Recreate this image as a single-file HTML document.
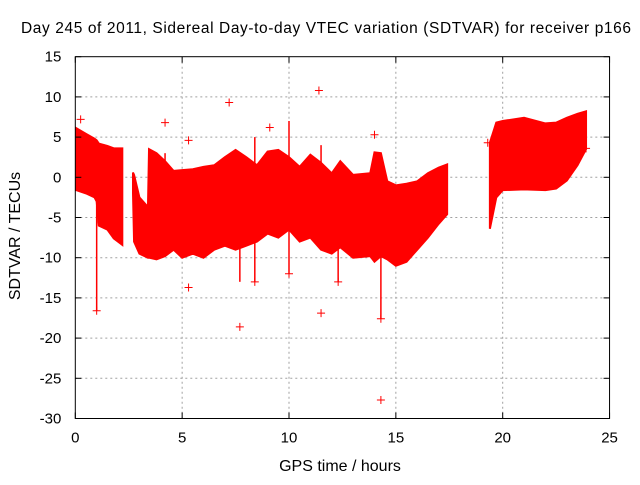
<!DOCTYPE html>
<html><head><meta charset="utf-8"><style>
body{margin:0;background:#fff;}
svg text{font-family:"Liberation Sans",sans-serif;font-size:15px;fill:#000;}
</style></head><body>
<svg id="c" width="640" height="480">
<text x="326" y="33" text-anchor="middle" style="font-size:15.5px" textLength="610">Day 245 of 2011, Sidereal Day-to-day VTEC variation (SDTVAR) for receiver p166</text>
<text x="340" y="471" text-anchor="middle" style="font-size:16px">GPS time / hours</text>
<text transform="translate(20,236) rotate(-90)" text-anchor="middle" style="font-size:16px">SDTVAR / TECUs</text>
<g id="grid"></g><g id="data"></g><g id="axes"></g>
</svg>
<script>
const xTicks=[0,5,10,15,20,25];
const yTicks=[15,10,5,0,-5,-10,-15,-20,-25,-30];
const hours=[0.05,0.5,0.9,1.0,1.1,1.5,1.8,2.2,null,2.7,2.75,3.0,3.4,3.45,3.8,4.2,4.6,5.0,5.5,6.0,6.5,7.0,7.5,8.0,8.5,9.0,9.5,10.0,10.5,11.0,11.5,12.0,12.4,13.0,13.8,14.0,14.3,14.6,15.0,15.5,16.0,16.5,17.0,17.4,null,19.4,19.7,20.0,21.0,22.0,22.5,23.0,23.5,23.9];
const upper=[6.1,5.4,4.8,4.6,4.2,3.9,3.6,3.6,null,0.6,0.3,-2.5,-3.7,3.5,3.0,2.0,0.8,0.9,1.0,1.3,1.5,2.5,3.4,2.5,1.5,3.2,3.4,2.5,1.3,2.8,1.8,0.5,2.0,0.3,0.5,3.1,3.0,-0.5,-1,-0.8,-0.5,0.5,1.2,1.6,null,4.3,6.8,7.0,7.4,6.7,6.8,7.4,7.9,8.2];
const lower=[-1.6,-2.0,-2.5,-3.0,-6.0,-6.5,-7.6,-8.4,null,-2.0,-8.0,-9.5,-10.0,-10.0,-10.2,-9.8,-9.0,-10.0,-9.5,-10.0,-9.0,-8.5,-9.0,-8.5,-8.0,-7.0,-7.5,-6.5,-8.0,-7.5,-9.0,-9.5,-8.7,-10,-9.8,-10.5,-9.8,-10.2,-11,-10.5,-9,-7.5,-5.8,-4.6,null,-6.4,-2.5,-1.6,-1.5,-1.6,-1.4,-0.4,1.5,3.5];
const outX=[0.25,4.2,7.2,11.4,9.1,14.0,7.7,5.3,11.5,14.3,1.0,8.4,10.0,14.3,5.3,12.3,23.9,19.3];
const outY=[7.2,6.8,9.3,10.8,6.2,5.3,-18.6,-13.7,-16.9,-27.7,-16.6,-13,-12,-17.6,4.6,-13,3.6,4.3];
const spikeX=[1.0,7.7,8.4,10.0,11.5,14.3,12.3,4.2];
const spikeLo=[-16.6,-13,-13,-12,-9,-17.6,-13,-3];
const spikeHi=[-3,-6,5,7,4,-9,-8,3];
const X0=75.3,XS=21.37,Y0=177.3,YS=8.04;
const xs=v=>X0+v*XS, ys=v=>Y0-v*YS;
const NS="http://www.w3.org/2000/svg";
function mk(t,a,p){const e=document.createElementNS(NS,t);for(const k in a)e.setAttribute(k,a[k]);p.appendChild(e);return e;}
const g=document.getElementById('grid'),d=document.getElementById('data'),ax=document.getElementById('axes');
xTicks.forEach(t=>{const x=xs(t);
 if(t>0&&t<25){const l=mk('line',{x1:x,x2:x,y1:ys(15),y2:ys(-30),stroke:'#a0a0a0','stroke-dasharray':'2,3'},g);}
 mk('line',{x1:x,x2:x,y1:ys(-30),y2:ys(-30)-6,stroke:'#000'},ax);mk('line',{x1:x,x2:x,y1:ys(15),y2:ys(15)+6,stroke:'#000'},ax);
 const tx=mk('text',{x:x,y:ys(-30)+24,'text-anchor':'middle'},ax);tx.textContent=t;
 });
yTicks.forEach(t=>{const y=ys(t);
 if(t<15&&t>-30){const l=mk('line',{x1:xs(0),x2:xs(25),y1:y,y2:y,stroke:'#a0a0a0','stroke-dasharray':'2,3'},g);}
 mk('line',{x1:xs(0),x2:xs(0)+6,y1:y,y2:y,stroke:'#000'},ax);mk('line',{x1:xs(25),x2:xs(25)-6,y1:y,y2:y,stroke:'#000'},ax);
 const tx=mk('text',{x:xs(0)-14,y:y+5,'text-anchor':'end'},ax);tx.textContent=t;
 });
const fr=mk('rect',{x:xs(0),y:ys(15),width:xs(25)-xs(0),height:ys(-30)-ys(15),fill:'none',stroke:'#000'},ax);

let seg=[];
function flush(){if(!seg.length)return;const top=seg.map(i=>xs(hours[i])+','+ys(upper[i]));const bot=seg.slice().reverse().map(i=>xs(hours[i])+','+ys(lower[i]));
 const p=mk('polygon',{points:top.concat(bot).join(' '),fill:'#ff0000',stroke:'#ff0000','stroke-width':2},d);
 seg=[];}
hours.forEach((h,i)=>{if(h===null)flush();else seg.push(i);});flush();
spikeX.forEach((h,i)=>{const l=mk('line',{x1:xs(h),x2:xs(h),y1:ys(spikeLo[i]),y2:ys(spikeHi[i]),stroke:'#ff0000','stroke-width':1.5},d);
 });
outX.forEach((h,i)=>{const x=xs(h),y=ys(outY[i]);
 const p=mk('path',{d:`M${x-4},${y}H${x+4}M${x},${y-4}V${y+4}`,stroke:'#ff0000','stroke-width':1},d);
 });
</script>
</body></html>
